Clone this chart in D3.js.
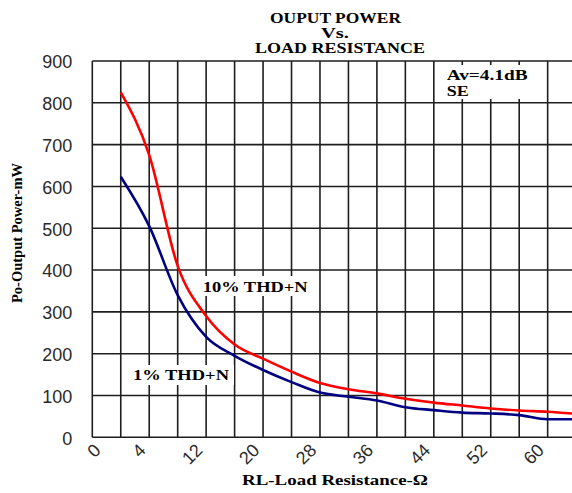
<!DOCTYPE html>
<html>
<head>
<meta charset="utf-8">
<script src="https://cdn.jsdelivr.net/npm/d3@7"></script>
<style>
  html, body { margin: 0; padding: 0; background: #fff; }
  svg { display: block; }
  .bold { font-family: "Liberation Serif", "DejaVu Serif", serif; font-weight: bold; fill: #000; }
  .tick text { font-family: "Liberation Sans", Arial, sans-serif; font-size: 18px; fill: #2a2a2a; }
</style>
</head>
<body>
<script>
// ---- data ----
const categories = ["0","2","4","8","12","16","20","24","28","32","36","40","44","48","52","56","60","64"];
const xTickLabels = ["0","4","12","20","28","36","44","52","60"];
const yTicks = [0,100,200,300,400,500,600,700,800,900];
const loadOhms = [2,4,8,12,16,20,24,28,32,36,40,44,48,52,56,60,64];
const power10 = [825,675,410,290,222,188,157,130,115,105,92,83,76,69,64,61,56];
const power1  = [623,505,340,240,195,161,132,107,97,88,72,65,59,57,53,43,43];
const titleLines = ["OUPUT POWER","Vs.","LOAD RESISTANCE"];

// ---- layout ----
const W = 572, H = 493;
const pLeft = 92.3, pTop = 61, pBottom = 437.3, step = 28.46;

const svg = d3.select("body").append("svg").attr("width", W).attr("height", H);
svg.append("rect").attr("width", W).attr("height", H).attr("fill", "#fff");

const x = d3.scalePoint().domain(categories).range([pLeft, pLeft + step * (categories.length - 1)]);
const y = d3.scaleLinear().domain([0, 900]).range([pBottom, pTop]);

const grid = svg.append("g").attr("stroke", "#1e1e1e").attr("stroke-width", 1.6);
grid.selectAll("line.v").data(categories).join("line").attr("class", "v")
  .attr("x1", d => x(d)).attr("x2", d => x(d)).attr("y1", pTop).attr("y2", pBottom);
grid.selectAll("line.h").data(yTicks).join("line").attr("class", "h")
  .attr("x1", pLeft).attr("x2", W).attr("y1", d => y(d)).attr("y2", d => y(d));

// y axis labels
const yAxis = svg.append("g").attr("transform", `translate(${pLeft},0)`)
  .call(d3.axisLeft(y).tickValues(yTicks).tickSize(0).tickPadding(20));
yAxis.select(".domain").remove();
yAxis.selectAll(".tick text").attr("dy", "0.38em");

// x axis labels
const xAxis = svg.append("g").attr("transform", `translate(0,${pBottom})`)
  .call(d3.axisBottom(x).tickValues(xTickLabels).tickSize(0));
xAxis.select(".domain").remove();
xAxis.selectAll(".tick text")
  .attr("text-anchor", "end")
  .attr("y", 0).attr("dy", 0)
  .attr("transform", (d, i) => `translate(${i === 0 ? 9 : -3},14) rotate(-45)`);

// text boxes with white background
function label(txt, tx, ty, len, size) {
  svg.append("text").attr("class", "bold").attr("x", tx).attr("y", ty)
    .attr("font-size", size).attr("textLength", len).attr("lengthAdjust", "spacingAndGlyphs").text(txt);
}
svg.append("rect").attr("x", 437).attr("y", 65).attr("width", 108).attr("height", 34).attr("fill", "#fff");
svg.append("rect").attr("x", 198).attr("y", 276).attr("width", 114).attr("height", 20).attr("fill", "#fff");
svg.append("rect").attr("x", 128).attr("y", 365).attr("width", 106).attr("height", 20).attr("fill", "#fff");

// lines
const line = d3.line().x(d => x(String(d[0]))).y(d => y(d[1])).curve(d3.curveMonotoneX);
svg.append("path").datum(loadOhms.map((r, i) => [r, power1[i]]))
  .attr("d", line).attr("fill", "none").attr("stroke", "#000080").attr("stroke-width", 2.6);
svg.append("path").datum(loadOhms.map((r, i) => [r, power10[i]]))
  .attr("d", line).attr("fill", "none").attr("stroke", "#ff0000").attr("stroke-width", 2.6);

label("Av=4.1dB", 446.7, 80, 81, 14);
label("SE", 446.7, 96, 22, 14);
label("10% THD+N", 202.7, 291.5, 105, 14);
label("1% THD+N", 133, 380, 96, 14);

// title
label(titleLines[0], 270, 22.7, 131, 15);
svg.append("text").attr("class", "bold").attr("x", 321).attr("y", 37.5).attr("font-size", 14)
  .attr("textLength", 28).attr("lengthAdjust", "spacingAndGlyphs").text(titleLines[1]);
label(titleLines[2], 255, 53.3, 170, 15);

// axis titles
label("RL-Load Resistance-Ω", 242, 485, 186, 15);
svg.append("text").attr("class", "bold")
  .attr("transform", "translate(22,303) rotate(-90)")
  .attr("font-size", 14).attr("textLength", 140).attr("lengthAdjust", "spacingAndGlyphs")
  .text("Po-Output Power-mW");
</script>
</body>
</html>
